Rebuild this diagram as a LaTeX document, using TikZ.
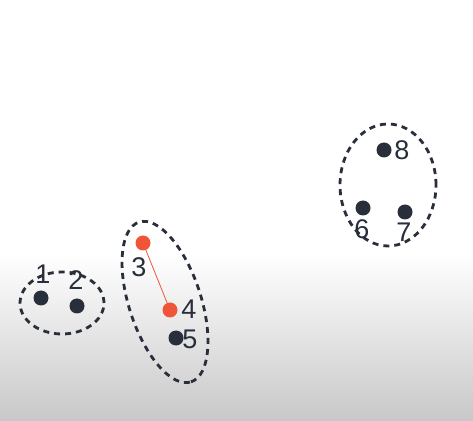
\documentclass[tikz,border=0pt]{standalone}
\usepackage{fontspec}
\setmainfont{Liberation Sans}
\definecolor{dotdark}{RGB}{40,46,58}
\definecolor{dotred}{RGB}{240,85,58}
\definecolor{bggray}{RGB}{200,200,200}
\tikzset{
  pt/.style={circle, fill=dotdark, inner sep=0pt, minimum size=15pt},
  ptred/.style={circle, fill=dotred, inner sep=0pt, minimum size=15pt},
  lbl/.style={text=dotdark, inner sep=0pt, font=\fontsize{27}{32}\selectfont},
  clusterline/.style={draw=dotdark, line width=2.8pt, dash pattern=on 6pt off 5pt},
}
\begin{document}
\begin{tikzpicture}[x=1pt,y=1pt]
\useasboundingbox (0,0) rectangle (473,420);
\fill[white] (0,0) rectangle (473,420);
\shade[top color=white, bottom color=bggray] (0,0) rectangle (473,165);
% cluster outlines
\draw[clusterline] (62,117) ellipse [x radius=42, y radius=31];
\draw[clusterline] (165,118) ellipse [x radius=84, y radius=36, rotate=-72];
\draw[clusterline] (388,235) ellipse [x radius=48, y radius=61];
% points
\node[pt] (p1) at (41,122) {};
\node[pt] (p2) at (77,114) {};
\node[ptred] (p3) at (143,177) {};
\node[ptred] (p4) at (170,110) {};
\node[pt] (p5) at (176,82) {};
\node[pt] (p6) at (363,212) {};
\node[pt] (p7) at (405,208) {};
\node[pt] (p8) at (384,270) {};
\draw[dotred, line width=0.8pt] (p3) -- (p4);
% labels
\node[lbl] (l1) at (43,146) {1};
\node[lbl] (l2) at (76,140) {2};
\node[lbl] (l3) at (139,153) {3};
\node[lbl] (l4) at (189,111) {4};
\node[lbl] (l5) at (190,81) {5};
\node[lbl] (l6) at (362,191) {6};
\node[lbl] (l7) at (404,188) {7};
\node[lbl] (l8) at (402,270) {8};
\end{tikzpicture}
\end{document}
